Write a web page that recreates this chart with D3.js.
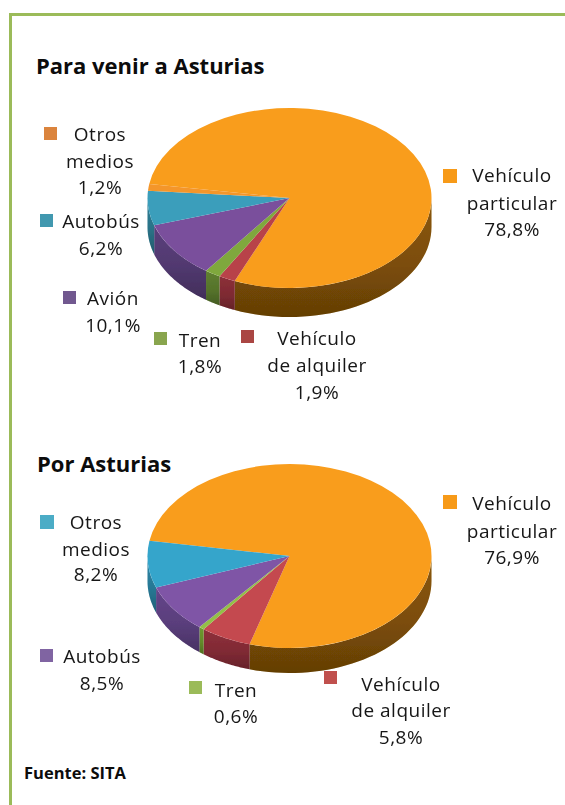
<!DOCTYPE html>
<html><head><meta charset="utf-8">
<script src="https://cdn.jsdelivr.net/npm/d3@7"></script>
<style>html,body{margin:0;padding:0;background:#fff}svg{display:block}
text{font-family:"Open Sans",sans-serif;fill:#161616}
.lab{font-size:19px;letter-spacing:.5px;text-anchor:middle}
.ttl{font-weight:700;fill:#0c0c0c}
</style></head><body>
<script>
// Data
const labelsVenir = ["Vehículo particular","Vehículo de alquiler","Tren","Avión","Autobús","Otros medios"];
const valuesVenir = [78.8,1.9,1.8,10.1,6.2,1.2];
const labelsPor = ["Vehículo particular","Vehículo de alquiler","Tren","Autobús","Otros medios"];
const valuesPor = [76.9,5.8,0.6,8.5,8.2];
const titleVenir = "Para venir a Asturias";
const titlePor = "Por Asturias";
const source = "Fuente: SITA";

// Layout (separate from the data)
const W=565,H=805;
const colorsVenir=["#F79A18","#AA4643","#89A54E","#71588F","#4198AF","#DB843D"];
const topVenir=["#F99D1C","#B8434A","#7FA83C","#7A509C","#3A9EBB","#F4962A"];
const colorsPor=["#F79A18","#C0504D","#9BBB59","#8064A2","#4BACC6"];
const topPor=["#F99D1C","#C4484F","#93C047","#7F55A6","#36A5CB"];
const wallVenir=["#8A5608","#8C2F38","#5F8030","#5A3F7C","#2F7F96","#A0621E"];
const wallPor=["#8A5608","#8E2F3A","#6E9A2E","#64458A","#2C86A6"];

const layoutVenir={cx:289.5,cy:198,rx:142,ry:90,depth:29,start:279,
 labels:[
  {lines:["Vehículo","particular","78,8%"],x:512,y:[182,210,236],sx:443,sy:169,s:14},
  {lines:["Vehículo","de alquiler","1,9%"],x:317,y:[345,372,399],sx:241,sy:330,s:13},
  {lines:["Tren","1,8%"],x:200,y:[347,373],sx:154,sy:332,s:13},
  {lines:["Avión","10,1%"],x:113,y:[305,332],sx:63,sy:291,s:13},
  {lines:["Autobús","6,2%"],x:101,y:[228,255],sx:40,sy:214,s:13},
  {lines:["Otros","medios","1,2%"],x:100,y:[141,168,194],sx:44,sy:127,s:13}
 ]};
const layoutPor={cx:289.5,cy:556,rx:142,ry:92,depth:25,start:279.5,
 labels:[
  {lines:["Vehículo","particular","76,9%"],x:512,y:[510,538,564],sx:443,sy:495,s:14},
  {lines:["Vehículo","de alquiler","5,8%"],x:401,y:[691,717,744],sx:324,sy:671,s:13},
  {lines:["Tren","0,6%"],x:236,y:[697,723],sx:189,sy:681,s:13},
  {lines:["Autobús","8,5%"],x:102,y:[663,690],sx:40,sy:649,s:13},
  {lines:["Otros","medios","8,2%"],x:96,y:[529,556,581],sx:40,sy:515,s:14}
 ]};

const svg=d3.select("body").append("svg").attr("width",W).attr("height",H);
const defs=svg.append("defs");
defs.append("filter").attr("id","soft").attr("x","-5%").attr("y","-5%").attr("width","110%").attr("height","110%")
  .append("feGaussianBlur").attr("stdDeviation",0.7);
defs.append("filter").attr("id","softText").attr("x","-5%").attr("y","-5%").attr("width","110%").attr("height","110%")
  .append("feGaussianBlur").attr("stdDeviation",0.3);
const dg=defs.append("linearGradient").attr("id","wallDepth").attr("x1",0).attr("x2",0).attr("y1",0).attr("y2",1);
[[0,"#000",0],[0.55,"#000",0.1],[1,"#000",0.28]].forEach(s=>dg.append("stop").attr("offset",s[0]).attr("stop-color",s[1]).attr("stop-opacity",s[2]));

// frame
const frame=svg.append("g").attr("fill","none").attr("stroke","#9BBB59").attr("stroke-width",3);
frame.append("path").attr("d",d3.line()([[10.5,H],[10.5,14.5],[W,14.5]]));

function draw3dPie(values,layout,topCols,wallCols){
  const L=layout;
  const toRad=d3.scaleLinear().domain([0,360]).range([0,2*Math.PI]);
  const arcs=d3.pie().sort(null).startAngle(toRad(L.start)).endAngle(toRad(L.start+360))(values);
  const g=svg.append("g").attr("filter","url(#soft)");
  const px=a=>L.cx+L.rx*Math.sin(a), py=a=>L.cy-L.ry*Math.cos(a);
  const frontA=Math.PI/2, frontB=3*Math.PI/2;
  const walls=[];
  arcs.forEach((d,i)=>{
    [0,2*Math.PI].forEach(off=>{
      const a0=Math.max(d.startAngle-off,frontA), a1=Math.min(d.endAngle-off,frontB);
      if(a1>a0) walls.push({a0,a1,i});
    });
  });
  const wallPath=w=>{
    const p=d3.range(0,41).map(k=>w.a0+(w.a1-w.a0)*k/40);
    const up=p.map(a=>[px(a),py(a)]), lo=p.slice().reverse().map(a=>[px(a),py(a)+L.depth]);
    return d3.line()(up.concat(lo))+"Z";
  };
  g.selectAll("path.wall").data(walls).join("path").attr("class","wall").attr("d",wallPath).attr("fill",d=>wallCols[d.i]);
  g.selectAll("path.shade").data(walls).join("path").attr("class","shade").attr("d",wallPath).attr("fill","url(#wallDepth)");
  const top=g.append("g").attr("transform",`translate(${L.cx},${L.cy}) scale(1,${L.ry/L.rx})`);
  const arc=d3.arc().innerRadius(0).outerRadius(L.rx);
  top.selectAll("path").data(arcs).join("path").attr("d",arc).attr("fill",(d,i)=>topCols[i]);
}
function drawLabels(layout,cols){
  const g=svg.append("g");
  layout.labels.forEach((l,i)=>{
    g.append("rect").attr("x",l.sx).attr("y",l.sy).attr("width",l.s).attr("height",l.s).attr("fill",cols[i]);
    l.lines.forEach((t,j)=>g.append("text").attr("class","lab").attr("x",l.x).attr("y",l.y[j]).attr("filter","url(#softText)").text(t));
  });
}
draw3dPie(valuesVenir,layoutVenir,topVenir,wallVenir);
draw3dPie(valuesPor,layoutPor,topPor,wallPor);
drawLabels(layoutVenir,colorsVenir);
drawLabels(layoutPor,colorsPor);
svg.append("text").attr("class","ttl").attr("x",36).attr("y",74).attr("font-size",22).text(titleVenir);
svg.append("text").attr("class","ttl").attr("x",37).attr("y",472).attr("font-size",22).text(titlePor);
svg.append("text").attr("class","ttl").attr("x",24).attr("y",779).attr("font-size",16.5).text(source);
</script></body></html>
